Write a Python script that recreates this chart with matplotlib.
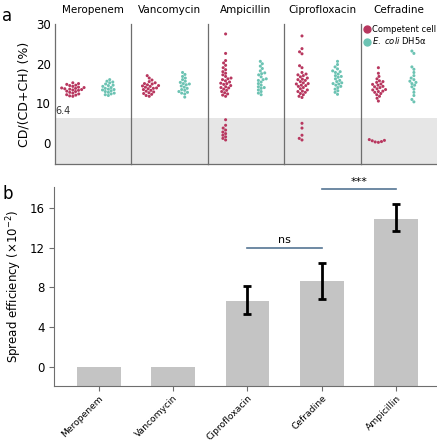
import pandas as pd
import matplotlib.pyplot as plt
import seaborn as sns

drugs_a = ["Meropenem", "Vancomycin", "Ampicillin", "Ciprofloxacin", "Cefradine"]

competent = {
    "Meropenem": [15.2, 15.0, 14.8, 14.6, 14.5, 14.3, 14.1, 14.0, 13.9, 13.8, 13.6, 13.5,
                  13.4, 13.3, 13.1, 13.0, 12.8, 12.6, 12.4, 12.2, 12.1, 11.9, 11.8, 13.7],
    "Vancomycin": [17.0, 16.4, 15.9, 15.5, 15.2, 14.9, 14.7, 14.5, 14.3, 14.1, 13.9, 13.7,
                   13.5, 13.3, 13.1, 12.9, 12.7, 12.5, 12.3, 12.0, 11.8, 14.4, 13.8, 15.0],
    "Ampicillin": [27.5, 22.6, 20.8, 20.2, 19.6, 19.0, 18.5, 18.0, 17.6, 17.2, 16.8, 16.4,
                   16.0, 15.7, 15.4, 15.1, 14.8, 14.5, 14.2, 13.9, 13.6, 13.3, 13.0, 12.7,
                   12.4, 12.1, 11.8, 16.2, 15.0, 14.0,
                   5.9, 4.5, 3.8, 3.3, 2.8, 2.4, 2.0, 1.6, 1.2, 0.8],
    "Ciprofloxacin": [27.0, 23.8, 23.0, 22.5, 19.5, 19.0, 17.8, 17.4, 17.0, 16.7, 16.4, 16.1,
                      15.8, 15.5, 15.2, 14.9, 14.6, 14.3, 14.0, 13.7, 13.4, 13.1, 12.8, 12.5,
                      12.2, 11.8, 11.5, 15.0, 16.0, 14.5, 13.0, 17.2,
                      5.0, 3.8, 2.0, 1.2, 0.8],
    "Cefradine": [19.0, 17.6, 16.8, 16.2, 15.7, 15.3, 14.9, 14.6, 14.3, 14.0, 13.7, 13.4,
                  13.1, 12.8, 12.5, 12.2, 11.8, 11.3, 10.6, 14.8, 13.5, 14.2, 13.0, 15.5,
                  0.9, 0.6, 0.4, 0.2, 0.7, 0.3],
}
ecoli = {
    "Meropenem": [16.0, 15.6, 15.2, 14.9, 14.6, 14.3, 14.0, 13.8, 13.6, 13.4, 13.2, 13.0,
                  12.8, 12.6, 12.4, 12.2, 12.0, 14.5, 13.5, 15.4],
    "Vancomycin": [17.8, 17.3, 16.8, 16.4, 16.0, 15.6, 15.3, 15.0, 14.7, 14.4, 14.1, 13.8,
                   13.5, 13.3, 13.0, 12.8, 12.6, 12.4, 11.6, 14.9],
    "Ampicillin": [20.6, 20.0, 19.4, 18.8, 18.2, 17.7, 17.2, 16.7, 16.2, 15.8, 15.4, 15.0,
                   14.6, 14.2, 13.8, 13.4, 13.0, 12.6, 12.2, 14.0, 16.0, 17.5],
    "Ciprofloxacin": [20.6, 19.8, 19.2, 18.7, 18.2, 17.8, 17.4, 17.0, 16.6, 16.2, 15.8, 15.5,
                      15.2, 14.9, 14.6, 14.3, 14.0, 13.6, 13.2, 12.8, 12.3, 16.8, 15.0, 18.0],
    "Cefradine": [23.2, 22.6, 19.2, 18.6, 17.8, 17.0, 16.4, 16.0, 15.6, 15.3, 15.0, 14.6,
                  14.2, 13.6, 12.8, 12.0, 11.0, 10.4],
}
threshold = 6.4

drugs_b = ["Meropenem", "Vancomycin", "Ciprofloxacin", "Cefradine", "Ampicillin"]
efficiency = [0, 0, 6.6, 8.6, 14.9]
err_low = [0, 0, 5.3, 6.8, 13.7]
err_high = [0, 0, 8.1, 10.4, 16.4]

red = "#b8375f"
teal = "#6cc3b3"
spine_col = "#6e6e6e"

fig = plt.figure(figsize=(4.37, 4.45), dpi=100)

# panel a
left, right, bottom, top = 0.126, 1.0, 0.631, 0.946
w = (right - left) / 5
axes_a = []
for i, drug in enumerate(drugs_a):
    ax = fig.add_axes([left + i * w, bottom, w, top - bottom])
    df = pd.DataFrame({
        "cell": ["Competent cell"] * len(competent[drug]) + ["E. coli"] * len(ecoli[drug]),
        "value": competent[drug] + ecoli[drug],
    })
    ax.axhspan(-10, threshold, color="#e6e6e6", zorder=0, lw=0)
    sns.swarmplot(data=df, x="cell", y="value", hue="cell", order=["Competent cell", "E. coli"],
                  palette={"Competent cell": red, "E. coli": teal}, size=2.2, ax=ax,
                  legend=False, linewidth=0, zorder=3)
    ax.set_xlim(-0.5, 1.65)
    ax.set_ylim(-5.3, 30)
    ax.set_xticks([])
    ax.set_xlabel("")
    ax.set_ylabel("")
    ax.set_title(drug, fontsize=7.5, pad=8)
    for s in ["top", "right"]:
        ax.spines[s].set_visible(False)
    for s in ["left", "bottom"]:
        ax.spines[s].set_color(spine_col)
        ax.spines[s].set_linewidth(0.9)
    if i == 0:
        ax.set_yticks([0, 10, 20, 30])
        ax.tick_params(axis="y", labelsize=8.5, length=0, pad=3)
        ax.set_ylabel("CD/(CD+CH) (%)", fontsize=9)
        ax.text(-0.48, threshold + 0.5, "6.4", fontsize=7, color="#333333", va="bottom")
    else:
        ax.set_yticks([])
    axes_a.append(ax)

h1 = plt.Line2D([], [], marker="o", ls="", color=red, markersize=5)
h2 = plt.Line2D([], [], marker="o", ls="", color=teal, markersize=5)
axes_a[-1].legend([h1, h2], ["Competent cell", "$\\it{E.\\ coli}$ DH5\u03b1"], loc="upper left",
                  bbox_to_anchor=(-0.04, 1.03), fontsize=6, frameon=False, handletextpad=0.1,
                  labelspacing=0.2, borderaxespad=0.2, handlelength=1.0)

# panel b
axb = fig.add_axes([0.124, 0.133, 0.876, 0.447])
ymin = -1.9
x = list(range(len(drugs_b)))
heights = [v - ymin for v in efficiency]
axb.bar(x, heights, bottom=ymin, width=0.59, color="#c4c4c4", zorder=1)
for xi, v, lo, hi in zip(x, efficiency, err_low, err_high):
    if hi > lo:
        axb.errorbar(xi, v, yerr=[[v - lo], [hi - v]], fmt="none", ecolor="black",
                     elinewidth=2, capsize=3, capthick=2, zorder=3)
axb.set_ylim(ymin, 18.1)
axb.set_xlim(-0.6, 4.55)
axb.set_yticks([0, 4, 8, 12, 16])
axb.set_xticks(x)
axb.set_xticklabels(drugs_b, rotation=45, ha="right", rotation_mode="anchor", fontsize=6.6)
axb.tick_params(axis="y", labelsize=8.5, color=spine_col)
axb.tick_params(axis="x", color=spine_col, pad=2)
axb.set_ylabel("Spread efficiency (\u00d710$^{-2}$)", fontsize=8.5)
for s in ["top", "right"]:
    axb.spines[s].set_visible(False)
for s in ["left", "bottom"]:
    axb.spines[s].set_color(spine_col)

line_col = "#557594"
axb.plot([2, 3], [12.0, 12.0], color=line_col, lw=1.2)
axb.text(2.5, 12.3, "ns", ha="center", va="bottom", fontsize=8)
axb.plot([3, 4], [17.9, 17.9], color=line_col, lw=1.2, clip_on=False)
axb.text(3.5, 18.1, "***", ha="center", va="bottom", fontsize=8)

fig.text(0.005, 0.985, "a", fontsize=12, va="top")
fig.text(0.005, 0.585, "b", fontsize=12, va="top")

fig.savefig("out.png", dpi=100)
